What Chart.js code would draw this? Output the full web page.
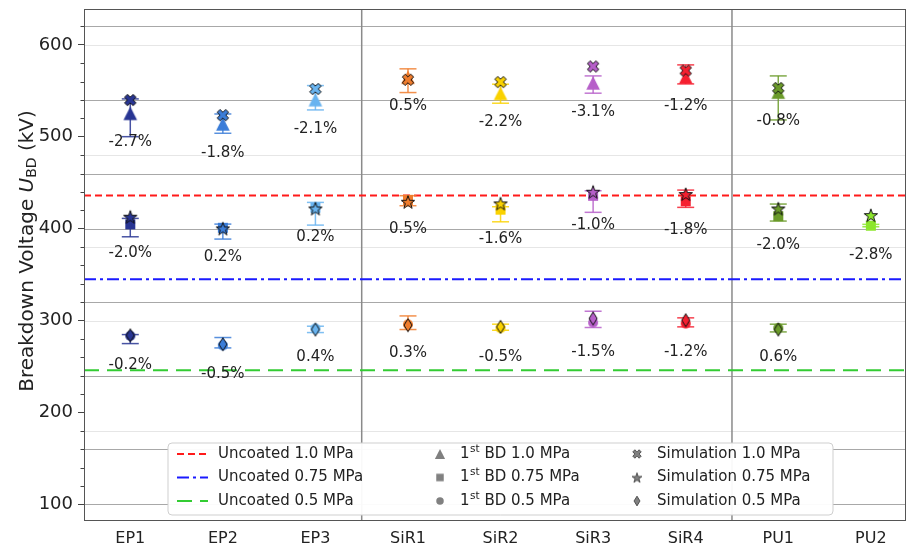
<!DOCTYPE html>
<html><head><meta charset="utf-8">
<script src="https://cdn.jsdelivr.net/npm/chart.js@4/dist/chart.umd.min.js"></script>
<style>html,body{margin:0;padding:0;background:#fff}#wrap{width:909px;height:548px}</style>
</head><body><div id="wrap"><canvas id="c" width="909" height="548"></canvas></div>
<script>
// ---------------- DATA ----------------
const categories = ['EP1','EP2','EP3','SiR1','SiR2','SiR3','SiR4','PU1','PU2'];
const categoryColors = ['#283593','#3b7dd8','#69b4f0','#f07d2d','#fad200','#b65fc9','#f52030','#6b9b2a','#8ce62c'];
const pressures = ['1.0','0.75','0.5'];

// 1st breakdown, 1.0 MPa
const bd10     = [525.5, 514.0, 540.4, 564.8, 547.2, 558.6, 565.0, 548.6, null];
const bd10Low  = [500.1, 503.8, 529.2, 548.1, 536.5, 547.4, 557.5, 518.3, null];
const bd10High = [541.2, 524.8, 555.7, 573.9, 557.2, 566.2, 578.2, 566.2, null];
const sim10    = [540.0, 523.5, 552.0, 562.0, 559.5, 576.5, 572.0, 553.0, null];
const pct10    = ['-2.7%','-1.8%','-2.1%','0.5%','-2.2%','-3.1%','-1.2%','-0.8%', null];

// 1st breakdown, 0.75 MPa
const bd075     = [404.7, 401.0, 422.8, 431.4, 420.7, 435.8, 429.8, 413.6, 403.2];
const bd075Low  = [391.2, 388.7, 403.9, 425.0, 407.5, 417.8, 423.2, 408.3, 402.1];
const bd075High = [411.2, 405.0, 428.6, 435.9, 423.9, 441.3, 442.0, 426.8, 404.7];
const sim075    = [413.0, 400.3, 422.0, 429.3, 427.5, 440.2, 437.7, 422.0, 414.8];
const pct075    = ['-2.0%','0.2%','0.2%','0.5%','-1.6%','-1.0%','-1.8%','-2.0%','-2.8%'];

// 1st breakdown, 0.5 MPa
const bd05     = [283.4, 273.0, 291.5, 295.9, 291.7, 297.8, 296.8, 292.0, null];
const bd05Low  = [275.0, 270.3, 287.0, 290.3, 289.5, 292.5, 293.2, 287.7, null];
const bd05High = [284.8, 281.6, 293.9, 305.1, 296.1, 310.2, 303.0, 296.1, null];
const sim05    = [284.0, 274.3, 290.3, 295.0, 293.2, 302.3, 300.4, 290.3, null];
const pct05    = ['-0.2%','-0.5%','0.4%','0.3%','-0.5%','-1.5%','-1.2%','0.6%', null];

// Uncoated reference levels (1.0, 0.75, 0.5 MPa)
const uncoated = [436, 345, 246];

const yTicks = [100, 200, 300, 400, 500, 600];
const yMinorStep = 20;
const darkGridLines = [620, 540, 460, 400, 320, 240, 160, 100];
const lightGridLines = [600, 480, 380, 300, 180];
const groupSeparators = [2.5, 6.5];
const xMin = -0.5, xMax = 8.38, yMin = 82, yMax = 639;

// ---------------- MARKERS ----------------
function mk(kind, fill, stroke, scale) {
  scale = scale || 1;
  const S = Math.ceil(18 * scale);
  const c = document.createElement('canvas');
  c.width = S; c.height = S;
  const g = c.getContext('2d');
  g.translate(S / 2, S / 2);
  g.scale(scale, scale);
  g.beginPath();
  if (kind === 'tri') {
    const r = 6.8; g.moveTo(0, -r); g.lineTo(r, r); g.lineTo(-r, r); g.closePath();
  } else if (kind === 'sq') {
    g.rect(-5, -5, 10, 10);
  } else if (kind === 'ci') {
    g.arc(0, 0, 5, 0, Math.PI * 2);
  } else if (kind === 'x') {
    const r = 6, w = 2;
    const pts = [[w,r],[w,w],[r,w],[r,-w],[w,-w],[w,-r],[-w,-r],[-w,-w],[-r,-w],[-r,w],[-w,w],[-w,r]];
    const a = Math.PI / 4, ca = Math.cos(a), sa = Math.sin(a);
    pts.forEach((p, i) => {
      const X = p[0] * ca - p[1] * sa, Y = p[0] * sa + p[1] * ca;
      if (i === 0) g.moveTo(X, Y); else g.lineTo(X, Y);
    });
    g.closePath();
  } else if (kind === 'star') {
    const R = 7, ri = 2.75;
    for (let i = 0; i < 10; i++) {
      const rr = i % 2 === 0 ? R : ri;
      const ang = -Math.PI / 2 + i * Math.PI / 5;
      const X = rr * Math.cos(ang), Y = rr * Math.sin(ang) + 0.8;
      if (i === 0) g.moveTo(X, Y); else g.lineTo(X, Y);
    }
    g.closePath();
  } else if (kind === 'dia') {
    g.moveTo(0, -6.5); g.lineTo(4, 0); g.lineTo(0, 6.5); g.lineTo(-4, 0); g.closePath();
  }
  g.fillStyle = fill; g.fill();
  if (stroke) { g.lineWidth = 1; g.strokeStyle = stroke; g.stroke(); }
  return c;
}
const styles = k => categoryColors.map(col => mk(k, col, (k === 'x' || k === 'star' || k === 'dia') ? '#111' : null));

const pts = arr => arr.map((v, i) => ({ x: i, y: v }));
const lineData = v => [{ x: xMin, y: v }, { x: xMax, y: v }];

const datasets = [
  { type: 'line', label: 'Uncoated 1.0 MPa', data: lineData(uncoated[0]), borderColor: '#ff1a1a', borderWidth: 2, borderDash: [7, 4], pointRadius: 0, order: 3 },
  { type: 'line', label: 'Uncoated 0.75 MPa', data: lineData(uncoated[1]), borderColor: '#1a1aff', borderWidth: 2, borderDash: [12, 4, 3, 4], pointRadius: 0, order: 3 },
  { type: 'line', label: 'Uncoated 0.5 MPa', data: lineData(uncoated[2]), borderColor: '#33cc33', borderWidth: 2, borderDash: [15, 8], pointRadius: 0, order: 3 },
  { type: 'scatter', label: '1st BD 1.0 MPa', data: pts(bd10), pointStyle: styles('tri'), pointRadius: 7, order: 2, errLow: bd10Low, errHigh: bd10High, pct: pct10 },
  { type: 'scatter', label: '1st BD 0.75 MPa', data: pts(bd075), pointStyle: styles('sq'), pointRadius: 6, order: 2, errLow: bd075Low, errHigh: bd075High, pct: pct075 },
  { type: 'scatter', label: '1st BD 0.5 MPa', data: pts(bd05), pointStyle: styles('ci'), pointRadius: 6, order: 2, errLow: bd05Low, errHigh: bd05High, pct: pct05 },
  { type: 'scatter', label: 'Simulation 1.0 MPa', data: pts(sim10), pointStyle: styles('x'), pointRadius: 7, order: 1 },
  { type: 'scatter', label: 'Simulation 0.75 MPa', data: pts(sim075), pointStyle: styles('star'), pointRadius: 7, order: 1 },
  { type: 'scatter', label: 'Simulation 0.5 MPa', data: pts(sim05), pointStyle: styles('dia'), pointRadius: 7, order: 1 },
];

const FONT = "'DejaVu Sans', 'Liberation Sans', sans-serif";

function hline(ctx, x1, x2, y) { ctx.beginPath(); ctx.moveTo(x1, y); ctx.lineTo(x2, y); ctx.stroke(); }
function vline(ctx, x, y1, y2) { ctx.beginPath(); ctx.moveTo(x, y1); ctx.lineTo(x, y2); ctx.stroke(); }

const decor = {
  id: 'decor',
  beforeDatasetsDraw(chart) {
    const { ctx, chartArea: a, scales: { x, y } } = chart;
    ctx.save();
    ctx.lineWidth = 1.2;
    ctx.strokeStyle = '#e6e6e6';
    lightGridLines.forEach(v => hline(ctx, a.left, a.right, Math.round(y.getPixelForValue(v)) + 0.5));
    ctx.strokeStyle = '#a8a8a8';
    darkGridLines.forEach(v => hline(ctx, a.left, a.right, Math.round(y.getPixelForValue(v)) + 0.5));
    ctx.lineWidth = 1.5;
    ctx.strokeStyle = '#8a8a8a';
    groupSeparators.forEach(v => vline(ctx, x.getPixelForValue(v), a.top, a.bottom));
    ctx.restore();
  },
  afterDatasetDraw(chart, args) {
    const ds = chart.data.datasets[args.index];
    if (!ds.errLow) return;
    const { ctx, scales: { x, y } } = chart;
    ctx.save();
    ctx.lineWidth = 1.5;
    ctx.globalAlpha = 0.85;
    ds.errLow.forEach((lo, i) => {
      const hi = ds.errHigh[i];
      if (lo == null || hi == null) return;
      const px = x.getPixelForValue(i), p1 = y.getPixelForValue(lo), p2 = y.getPixelForValue(hi);
      ctx.strokeStyle = categoryColors[i];
      vline(ctx, px, p1, p2);
      hline(ctx, px - 8.5, px + 8.5, p1);
      hline(ctx, px - 8.5, px + 8.5, p2);
    });
    ctx.restore();
  },
  afterDatasetsDraw(chart) {
    const { ctx, chartArea: a, scales: { x, y } } = chart;
    ctx.save();
    // percentage labels
    ctx.font = '15px ' + FONT;
    ctx.fillStyle = '#222';
    ctx.textAlign = 'center';
    ctx.textBaseline = 'middle';
    chart.data.datasets.forEach(ds => {
      if (!ds.pct) return;
      ds.pct.forEach((t, i) => {
        const v = ds.data[i].y;
        if (t == null || v == null) return;
        ctx.fillText(t, x.getPixelForValue(i), y.getPixelForValue(v) + 29);
      });
    });
    // frame
    ctx.strokeStyle = '#555';
    ctx.lineWidth = 1;
    ctx.strokeRect(Math.round(a.left) + 0.5, Math.round(a.top) + 0.5, Math.round(a.right - a.left) - 1, Math.round(a.bottom - a.top) - 1);
    // minor y ticks
    ctx.strokeStyle = '#444';
    for (let v = Math.ceil(yMin / yMinorStep) * yMinorStep; v <= yMax; v += yMinorStep) {
      if (yTicks.includes(v)) continue;
      const py = Math.round(y.getPixelForValue(v)) + 0.5;
      hline(ctx, a.left - 3.5, a.left, py);
    }
    ctx.restore();
  },
  afterDraw(chart) {
    const { ctx, chartArea: a } = chart;
    ctx.save();
    // ---- legend ----
    const bx = 168, by = 443, bw = 665, bh = 72, r = 4;
    ctx.beginPath();
    ctx.moveTo(bx + r, by); ctx.lineTo(bx + bw - r, by); ctx.quadraticCurveTo(bx + bw, by, bx + bw, by + r);
    ctx.lineTo(bx + bw, by + bh - r); ctx.quadraticCurveTo(bx + bw, by + bh, bx + bw - r, by + bh);
    ctx.lineTo(bx + r, by + bh); ctx.quadraticCurveTo(bx, by + bh, bx, by + bh - r);
    ctx.lineTo(bx, by + r); ctx.quadraticCurveTo(bx, by, bx + r, by);
    ctx.closePath();
    ctx.fillStyle = 'rgba(255,255,255,0.95)'; ctx.fill();
    ctx.strokeStyle = '#cfcfcf'; ctx.lineWidth = 1; ctx.stroke();

    const rows = [454, 477.5, 501];
    ctx.font = '15px ' + FONT;
    ctx.fillStyle = '#222';
    ctx.textBaseline = 'middle';
    ctx.textAlign = 'left';
    const lineDs = chart.data.datasets.slice(0, 3);
    lineDs.forEach((ds, k) => {
      ctx.save();
      ctx.strokeStyle = ds.borderColor; ctx.lineWidth = 2; ctx.setLineDash(ds.borderDash);
      hline(ctx, 177, 208, rows[k]);
      ctx.restore();
      ctx.fillText(ds.label, 218, rows[k]);
    });
    const bdKinds = ['tri', 'sq', 'ci'], simKinds = ['x', 'star', 'dia'];
    pressures.forEach((p, k) => {
      const m1 = mk(bdKinds[k], '#808080', null, 0.75);
      ctx.drawImage(m1, 440 - m1.width / 2, rows[k] - m1.height / 2);
      let tx = 460;
      ctx.font = '15px ' + FONT;
      ctx.fillText('1', tx, rows[k]); tx += ctx.measureText('1').width;
      ctx.font = '10.5px ' + FONT;
      ctx.fillText('st', tx + 0.5, rows[k] - 5); tx += ctx.measureText('st').width + 0.5;
      ctx.font = '15px ' + FONT;
      ctx.fillText(' BD ' + p + ' MPa', tx, rows[k]);
      const m2 = mk(simKinds[k], '#808080', '#333', 0.75);
      ctx.drawImage(m2, 637 - m2.width / 2, rows[k] - m2.height / 2);
      ctx.fillText('Simulation ' + p + ' MPa', 657, rows[k]);
    });

    // ---- y axis title ----
    const cy = 251;
    ctx.translate(28, cy);
    ctx.rotate(-Math.PI / 2);
    const f = 20;
    const parts = [
      { t: 'Breakdown Voltage ', font: f + 'px ' + FONT, dy: 0 },
      { t: 'U', font: 'italic ' + f + 'px ' + FONT, dy: 0 },
      { t: 'BD', font: Math.round(f * 0.7) + 'px ' + FONT, dy: 4 },
      { t: ' (kV)', font: f + 'px ' + FONT, dy: 0 },
    ];
    let total = 0;
    parts.forEach(p => { ctx.font = p.font; p.w = ctx.measureText(p.t).width; total += p.w; });
    let xx = -total / 2;
    ctx.fillStyle = '#222';
    ctx.textAlign = 'left';
    parts.forEach(p => { ctx.font = p.font; ctx.fillText(p.t, xx, p.dy); xx += p.w; });
    ctx.restore();
  }
};

new Chart(document.getElementById('c'), {
  data: { datasets },
  options: {
    responsive: false,
    animation: false,
    devicePixelRatio: 1,
    layout: { autoPadding: false, padding: { top: 9, right: 3, left: 0, bottom: 0 } },
    plugins: { legend: { display: false }, tooltip: { enabled: false } },
    scales: {
      x: {
        type: 'linear', min: xMin, max: xMax,
        afterBuildTicks: s => { s.ticks = categories.map((c, i) => ({ value: i })); },
        afterFit: s => { s.height = 27; s.paddingLeft = 0; s.paddingRight = 0; },
        grid: { display: true, drawOnChartArea: false, drawTicks: true, tickLength: 4, color: 'rgba(0,0,0,0)', tickColor: 'rgba(0,0,0,0)' },
        border: { display: false },
        ticks: { callback: v => categories[v], font: { family: FONT, size: 16 }, color: '#222', padding: 4, maxRotation: 0, autoSkip: false }
      },
      y: {
        type: 'linear', min: yMin, max: yMax,
        afterBuildTicks: s => { s.ticks = yTicks.map(v => ({ value: v })); },
        afterFit: s => { s.width = 84; s.paddingTop = 0; s.paddingBottom = 0; },
        grid: { display: true, drawOnChartArea: false, drawTicks: true, tickLength: 6, color: 'rgba(0,0,0,0)', tickColor: '#444' },
        border: { display: false },
        ticks: { font: { family: FONT, size: 18 }, color: '#222', padding: 5 }
      }
    }
  },
  plugins: [decor]
});
</script></body></html>
